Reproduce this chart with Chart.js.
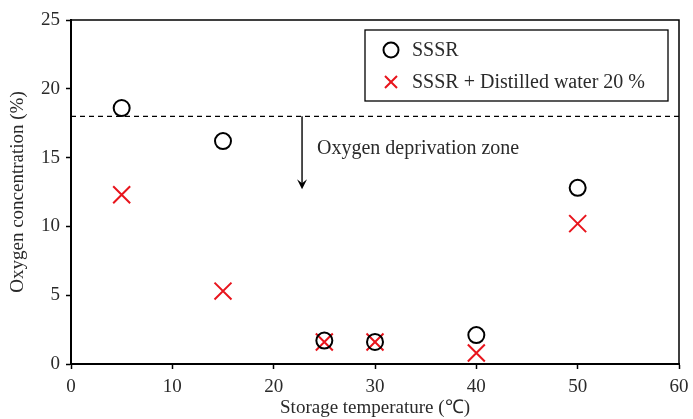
<!DOCTYPE html>
<html>
<head>
<meta charset="utf-8">
<script src="https://cdn.jsdelivr.net/npm/chart.js@4/dist/chart.umd.min.js"></script>
<style>
  html, body { margin: 0; padding: 0; background: #fff; overflow: hidden; }
  canvas { display: block; }
</style>
</head>
<body>
<canvas id="chart" width="693" height="419"></canvas>
<script>
const temperatures = [5, 15, 25, 30, 40, 50];
const sssr = [18.6, 16.2, 1.7, 1.6, 2.1, 12.8];
const sssrWater = [12.3, 5.3, 1.6, 1.6, 0.8, 10.2];
const seriesNames = ['SSSR', 'SSSR + Distilled water 20 %'];
const xTicks = [0, 10, 20, 30, 40, 50, 60];
const yTicks = [0, 5, 10, 15, 20, 25];
const deprivationLevel = 18;
const arrowFrom = [22.8, 18];
const arrowTo = [22.8, 12.7];
const zoneLabel = 'Oxygen deprivation zone';

const serif = '"Liberation Serif", "Times New Roman", serif';

const toPoints = ys => temperatures.map((t, i) => ({ x: t, y: ys[i] }));

// dashed threshold line, arrow, frame and boxed legend
const extras = {
  id: 'extras',
  afterDatasetsDraw(chart) {
    const { ctx, chartArea: a, scales: { x, y } } = chart;
    ctx.save();

    // frame top / right
    ctx.strokeStyle = '#000';
    ctx.lineWidth = 1.5;
    ctx.beginPath();
    ctx.moveTo(a.left, a.top);
    ctx.lineTo(a.right, a.top);
    ctx.lineTo(a.right, a.bottom);
    ctx.stroke();

    // threshold
    const yl = y.getPixelForValue(deprivationLevel);
    ctx.lineWidth = 1.3;
    ctx.setLineDash([5, 4]);
    ctx.beginPath();
    ctx.moveTo(a.left, yl);
    ctx.lineTo(a.right, yl);
    ctx.stroke();
    ctx.setLineDash([]);

    // arrow
    const ax = x.getPixelForValue(arrowFrom[0]);
    const ay0 = y.getPixelForValue(arrowFrom[1]);
    const ay1 = y.getPixelForValue(arrowTo[1]);
    ctx.lineWidth = 1.4;
    ctx.beginPath();
    ctx.moveTo(ax, ay0);
    ctx.lineTo(ax, ay1 - 3);
    ctx.stroke();
    ctx.fillStyle = '#000';
    ctx.beginPath();
    ctx.moveTo(ax - 5, ay1 - 10);
    ctx.lineTo(ax, ay1 - 6);
    ctx.lineTo(ax + 5, ay1 - 10);
    ctx.lineTo(ax, ay1);
    ctx.closePath();
    ctx.fill();

    ctx.font = '20px ' + serif;
    ctx.fillStyle = '#2a2a2a';
    ctx.textBaseline = 'middle';
    ctx.textAlign = 'left';
    ctx.fillText(zoneLabel, ax + 15, 149);

    // legend box
    const bx = 365, by = 30, bw = 303, bh = 71;
    ctx.fillStyle = '#fff';
    ctx.fillRect(bx, by, bw, bh);
    ctx.strokeStyle = '#000';
    ctx.lineWidth = 1.3;
    ctx.strokeRect(bx, by, bw, bh);
    chart.data.datasets.forEach((ds, i) => {
      const cy = by + 20 + i * 32;
      ctx.strokeStyle = ds.borderColor;
      ctx.lineWidth = ds.pointBorderWidth;
      Chart.helpers.drawPoint(ctx, {
        pointStyle: ds.pointStyle,
        radius: i === 0 ? 7.5 : 8.5,
        borderWidth: ds.pointBorderWidth
      }, 391, cy);
      ctx.fillStyle = '#2a2a2a';
      ctx.font = '20px ' + serif;
      ctx.fillText(ds.label, 412, cy + 1);
    });

    ctx.restore();
  }
};

new Chart(document.getElementById('chart'), {
  type: 'scatter',
  data: {
    datasets: [
      {
        label: seriesNames[0],
        data: toPoints(sssr),
        pointStyle: 'circle',
        pointRadius: 8,
        pointBorderWidth: 2,
        borderColor: '#000',
        backgroundColor: 'rgba(0,0,0,0)'
      },
      {
        label: seriesNames[1],
        data: toPoints(sssrWater),
        pointStyle: 'crossRot',
        pointRadius: 12,
        pointBorderWidth: 2,
        borderColor: '#e8141c',
        backgroundColor: '#e8141c'
      }
    ]
  },
  options: {
    responsive: false,
    animation: false,
    layout: { padding: { top: 20, right: 10, left: 0, bottom: 0 } },
    plugins: {
      legend: { display: false },
      tooltip: { enabled: false }
    },
    scales: {
      x: {
        type: 'linear',
        min: 0,
        max: 60,
        afterBuildTicks: s => { s.ticks = xTicks.map(v => ({ value: v })); },
        // keep the last label from pulling the plot edge inward
        afterFit: s => { s.height = 55; s.paddingLeft = 0; s.paddingRight = 0; },
        border: { color: '#000', width: 2 },
        grid: { drawOnChartArea: false, drawTicks: true, tickLength: 5, color: '#000', tickWidth: 1.5 },
        // zero padding, taller line box pushes the labels down instead
        ticks: { color: '#2a2a2a', padding: 0, font: { family: serif, size: 19, lineHeight: 1.85 } },
        title: {
          display: true,
          text: 'Storage temperature (℃)',
          color: '#2a2a2a',
          padding: { top: 2, bottom: 0 },
          font: { family: serif, size: 19 }
        }
      },
      y: {
        min: 0,
        max: 25,
        afterBuildTicks: s => { s.ticks = yTicks.map(v => ({ value: v })); },
        afterFit: s => { s.width = 71; },
        border: { color: '#000', width: 2 },
        grid: { drawOnChartArea: false, drawTicks: true, tickLength: 5, color: '#000', tickWidth: 1.5 },
        ticks: { color: '#2a2a2a', padding: 6, font: { family: serif, size: 19 } },
        title: {
          display: true,
          text: 'Oxygen concentration (%)',
          color: '#2a2a2a',
          padding: { top: 7, bottom: 2 },
          font: { family: serif, size: 19 }
        }
      }
    }
  },
  plugins: [extras]
});
</script>
</body>
</html>
